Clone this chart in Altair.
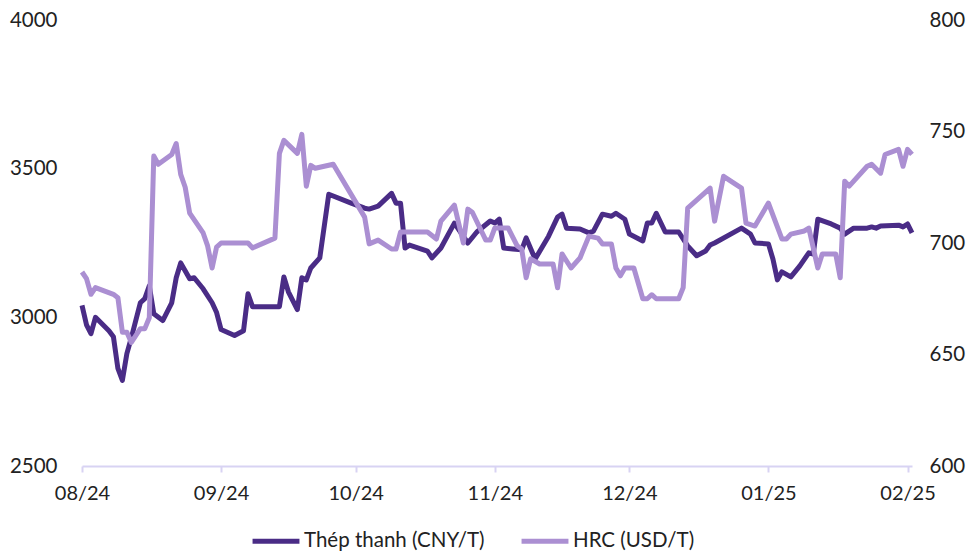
import altair as alt
import pandas as pd

# Thép thanh (CNY/T) - left axis
steel_dates = [
    "2024-08-01", "2024-08-02", "2024-08-03", "2024-08-04", "2024-08-07", "2024-08-08",
    "2024-08-09", "2024-08-10", "2024-08-11", "2024-08-12", "2024-08-14", "2024-08-15",
    "2024-08-16", "2024-08-17", "2024-08-19", "2024-08-21", "2024-08-22", "2024-08-23",
    "2024-08-25", "2024-08-26", "2024-08-28", "2024-08-30", "2024-08-31", "2024-09-01",
    "2024-09-04", "2024-09-06", "2024-09-07", "2024-09-08", "2024-09-14", "2024-09-15",
    "2024-09-16", "2024-09-18", "2024-09-19", "2024-09-20", "2024-09-21", "2024-09-23",
    "2024-09-25", "2024-09-30", "2024-10-03", "2024-10-04", "2024-10-06", "2024-10-09",
    "2024-10-10", "2024-10-11", "2024-10-12", "2024-10-13", "2024-10-17", "2024-10-18",
    "2024-10-20", "2024-10-23", "2024-10-26", "2024-10-28", "2024-10-31", "2024-11-01",
    "2024-11-02", "2024-11-03", "2024-11-05", "2024-11-07", "2024-11-08", "2024-11-10",
    "2024-11-13", "2024-11-15", "2024-11-16", "2024-11-17", "2024-11-20", "2024-11-22",
    "2024-11-23", "2024-11-25", "2024-11-27", "2024-11-28", "2024-11-30", "2024-12-01",
    "2024-12-04", "2024-12-05", "2024-12-06", "2024-12-07", "2024-12-09", "2024-12-12",
    "2024-12-14", "2024-12-16", "2024-12-18", "2024-12-19", "2024-12-20", "2024-12-26",
    "2024-12-28", "2024-12-29", "2025-01-01", "2025-01-02", "2025-01-03", "2025-01-04",
    "2025-01-06", "2025-01-08", "2025-01-10", "2025-01-11", "2025-01-12", "2025-01-15",
    "2025-01-17", "2025-01-18", "2025-01-20", "2025-01-23", "2025-01-24", "2025-01-25",
    "2025-01-26", "2025-01-30", "2025-01-31", "2025-02-01", "2025-02-02",
]
steel_values = [
    3040, 2975, 2945, 3000, 2955, 2935,
    2828, 2788, 2878, 2932, 3049, 3063,
    3106, 3012, 2989, 3049, 3133, 3183,
    3130, 3133, 3096, 3049, 3016, 2959,
    2939, 2955, 3079, 3036, 3036, 3136,
    3086, 3026, 3133, 3126, 3166, 3200,
    3414, 3384, 3367, 3364, 3374, 3417,
    3384, 3384, 3233, 3243, 3223, 3200,
    3233, 3317, 3250, 3287, 3324, 3317,
    3330, 3233, 3230, 3227, 3267, 3196,
    3273, 3337, 3347, 3300, 3297, 3284,
    3290, 3347, 3340, 3350, 3330, 3280,
    3257, 3317, 3317, 3350, 3287, 3287,
    3240, 3207, 3223, 3243, 3250, 3300,
    3280, 3250, 3247, 3196, 3126, 3153,
    3136, 3173, 3217, 3213, 3330, 3314,
    3300, 3280, 3300, 3300, 3304, 3300,
    3307, 3310, 3304, 3314, 3284,
]

# HRC (USD/T) - right axis
hrc_dates = [
    "2024-08-01", "2024-08-02", "2024-08-03", "2024-08-04", "2024-08-08", "2024-08-09",
    "2024-08-10", "2024-08-11", "2024-08-12", "2024-08-14", "2024-08-15", "2024-08-16",
    "2024-08-17", "2024-08-18", "2024-08-21", "2024-08-22", "2024-08-23", "2024-08-24",
    "2024-08-25", "2024-08-28", "2024-08-29", "2024-08-30", "2024-08-31", "2024-09-01",
    "2024-09-07", "2024-09-08", "2024-09-13", "2024-09-14", "2024-09-15", "2024-09-18",
    "2024-09-19", "2024-09-20", "2024-09-21", "2024-09-22", "2024-09-26", "2024-10-03",
    "2024-10-04", "2024-10-06", "2024-10-09", "2024-10-10", "2024-10-11", "2024-10-17",
    "2024-10-19", "2024-10-20", "2024-10-23", "2024-10-25", "2024-10-26", "2024-10-27",
    "2024-10-30", "2024-10-31", "2024-11-01", "2024-11-04", "2024-11-06", "2024-11-07",
    "2024-11-08", "2024-11-09", "2024-11-11", "2024-11-14", "2024-11-15", "2024-11-16",
    "2024-11-18", "2024-11-20", "2024-11-22", "2024-11-24", "2024-11-25", "2024-11-27",
    "2024-11-28", "2024-11-29", "2024-11-30", "2024-12-02", "2024-12-04", "2024-12-05",
    "2024-12-06", "2024-12-07", "2024-12-12", "2024-12-13", "2024-12-14", "2024-12-19",
    "2024-12-20", "2024-12-22", "2024-12-26", "2024-12-27", "2024-12-29", "2025-01-01",
    "2025-01-04", "2025-01-05", "2025-01-06", "2025-01-09", "2025-01-10", "2025-01-12",
    "2025-01-13", "2025-01-16", "2025-01-17", "2025-01-18", "2025-01-19", "2025-01-23",
    "2025-01-24", "2025-01-26", "2025-01-27", "2025-01-30", "2025-01-31", "2025-02-01",
    "2025-02-02",
]
hrc_values = [
    687, 684, 677, 680, 677, 675.5,
    660, 660, 655.4, 661.6, 661.6, 666.5,
    739, 735.3, 739.7, 744.6, 730.8, 725,
    713.4, 704.5, 698.7, 688.8, 698.2, 700,
    700, 697.8, 702.2, 740.2, 746, 740.2,
    748.7, 725.5, 734.8, 733.5, 735.3, 711.6,
    699.6, 701.3, 697.3, 697.3, 704.9, 704.9,
    701.8, 709.8, 717, 700, 715.2, 713.8,
    701.3, 701.3, 706.7, 706.7, 698.7, 697.3,
    684.4, 692.9, 690.6, 690.6, 679.9, 695.1,
    688.8, 693.3, 703.1, 702.2, 699.6, 699.6,
    688.8, 685.3, 688.8, 688.8, 675, 675,
    676.8, 675, 675, 680, 715.6, 724.6,
    709.8, 729.9, 724.6, 708.9, 707.6, 717.9,
    701.8, 701.8, 704, 705.4, 706.7, 688.8,
    695.1, 695.1, 684.4, 727.7, 725.5, 734.4,
    735.3, 731.3, 739.7, 742, 734.4, 742,
    739.7,
]

series_names = ["Thép thanh (CNY/T)", "HRC (USD/T)"]
series_colors = ["#4A2C86", "#AB8FD2"]
left_ticks = [2500, 3000, 3500, 4000]
right_ticks = [600, 650, 700, 750, 800]
month_ticks = ["2024-08-01", "2024-09-01", "2024-10-01", "2024-11-01",
               "2024-12-01", "2025-01-01", "2025-02-01"]

steel_df = pd.DataFrame({"date": steel_dates, "value": steel_values,
                         "series": series_names[0]})
hrc_df = pd.DataFrame({"date": hrc_dates, "value": hrc_values,
                       "series": series_names[1]})

FONT = "Lato"
TEXT = "#222222"

color = alt.Color(
    "series:N",
    scale=alt.Scale(domain=series_names, range=series_colors),
    legend=alt.Legend(
        title=None,
        orient="none",
        legendX=168,
        legendY=495,
        direction="horizontal",
        symbolType="stroke",
        symbolSize=2200,
        symbolStrokeWidth=5,
        labelFontSize=20.5,
        labelFont=FONT,
        labelColor=TEXT,
        labelOffset=2,
        labelLimit=400,
        columnPadding=26,
        symbolOffset=0,
    ),
)

x_enc = alt.X(
    "date:T",
    title=None,
    scale=alt.Scale(domain=["2024-08-01", "2025-02-02"]),
    axis=alt.Axis(
        format="%m/%y",
        values=month_ticks,
        labelFontSize=20,
        labelFont=FONT,
        labelColor=TEXT,
        domain=True,
        domainColor="#D8D3F3",
        domainWidth=2,
        ticks=True,
        tickColor="#D8D3F3",
        tickWidth=2,
        tickSize=6,
        labelPadding=11,
        grid=False,
        labelFlush=False,
    ),
)

steel = alt.Chart(steel_df).mark_line(strokeWidth=5, strokeJoin="round").encode(
    x=x_enc,
    y=alt.Y(
        "value:Q",
        title=None,
        scale=alt.Scale(domain=[2500, 4000], nice=False, zero=False),
        axis=alt.Axis(
            orient="left",
            values=left_ticks,
            format="d",
            domain=False,
            ticks=False,
            grid=False,
            labelFontSize=20.5,
            labelFont=FONT,
            labelColor=TEXT,
            labelPadding=25,
        ),
    ),
    color=color,
)

hrc = alt.Chart(hrc_df).mark_line(strokeWidth=5, strokeJoin="round").encode(
    x=x_enc,
    y=alt.Y(
        "value:Q",
        title=None,
        scale=alt.Scale(domain=[600, 800], nice=False, zero=False),
        axis=alt.Axis(
            orient="right",
            values=right_ticks,
            format="d",
            domain=False,
            ticks=False,
            grid=False,
            labelFontSize=20.5,
            labelFont=FONT,
            labelColor=TEXT,
            labelPadding=17,
        ),
    ),
    color=color,
)

chart = (
    alt.layer(steel, hrc)
    .resolve_scale(y="independent")
    .properties(
        width=830,
        height=446,
        autosize=alt.AutoSizeParams(type="none"),
        padding={"left": 74, "top": 12, "right": 55, "bottom": 85},
    )
    .configure(font=FONT)
    .configure_view(stroke=None, strokeWidth=0)
)

chart.save("out.html", embed_options={"renderer": "svg", "actions": False})
